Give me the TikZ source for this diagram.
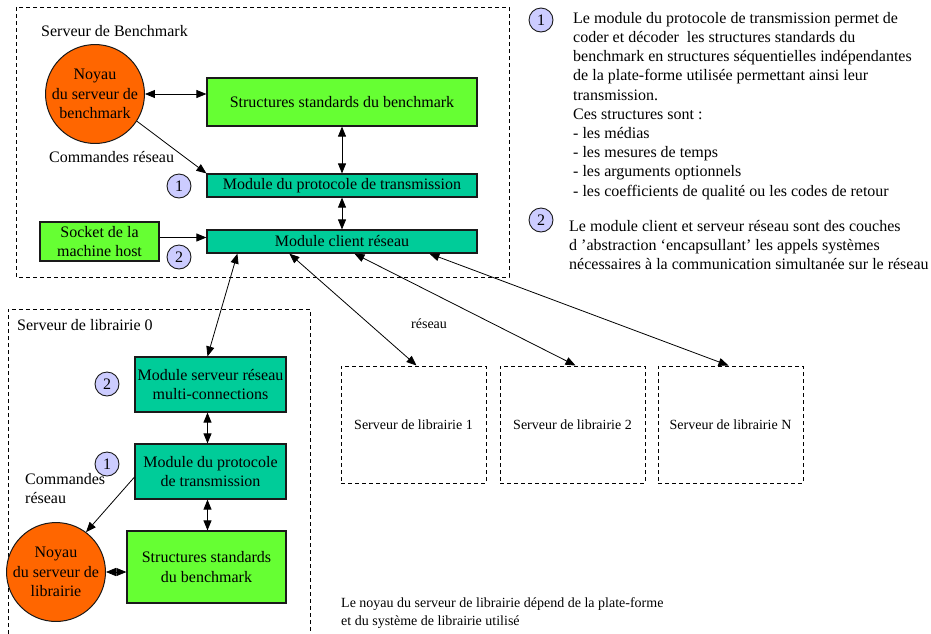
\documentclass[tikz,border=0pt]{standalone}
\usepackage{fontspec}
\setmainfont{Liberation Serif}
\usetikzlibrary{arrows.meta,calc}
\definecolor{noyau}{HTML}{FF6600}
\definecolor{vert}{HTML}{66FF33}
\definecolor{turq}{HTML}{00CC99}
\definecolor{lavande}{HTML}{CCCCFF}
\definecolor{trait}{HTML}{1A1A1A}
\begin{document}
\begin{tikzpicture}[x=1pt,y=-1pt,
  every node/.style={font=\fontsize{16}{19.2}\selectfont, inner sep=0pt},
  small/.style={font=\fontsize{14}{18}\selectfont},
  box/.style={draw=trait, line width=1.2pt, align=center},
  greenbox/.style={box, fill=vert},
  tealbox/.style={box, fill=turq},
  kernel/.style={circle, draw=trait, line width=1pt, fill=noyau, align=center},
  num/.style={circle, draw=trait, line width=0.9pt, fill=lavande, minimum size=24pt},
  group/.style={draw=black, line width=1pt, dash pattern=on 4pt off 3pt},
  libbox/.style={group, small, minimum width=145pt, minimum height=117pt},
  tip/.style={-{Triangle[length=10pt,width=8pt]}, line width=0.8pt},
  dtip/.style={{Triangle[length=10pt,width=8pt]}-{Triangle[length=10pt,width=8pt]}, line width=0.8pt},
  lbl/.style={anchor=west}
]
\useasboundingbox (0,0) rectangle (931,633);

% --- Serveur de Benchmark ---
\draw[group] (16,7) rectangle (509,277);
\node[lbl] (tbench) at (41,31) {Serveur de Benchmark};
\node[kernel, minimum size=96pt] (noy1) at (95,94) {Noyau\\du serveur de\\benchmark};
\node[greenbox, minimum width=270pt, minimum height=48pt] (st1) at (342,102) {Structures standards du benchmark};
\node[tealbox, minimum width=270pt, minimum height=23pt] (mp1) at (342,185.5) {Module du protocole de transmission};
\node[tealbox, minimum width=270pt, minimum height=23pt] (mc) at (342,241.5) {Module client réseau};
\node[greenbox, minimum width=119pt, minimum height=39pt] (sock) at (99.5,241.5) {Socket de la\\machine host};
\node[num] (c1a) at (179,186) {1};
\node[num] (c2a) at (179,257) {2};
\node[lbl] (cmd1) at (49,157) {Commandes réseau};

\draw[dtip] (noy1.east) -- (noy1.east -| st1.west);
\draw[tip] (noy1.-33) -- (mp1.north west);
\draw[dtip] (st1.south) -- (mp1.north);
\draw[dtip] (mp1.south) -- (mc.north);
\draw[tip] ([yshift=4pt]sock.east) -- ([yshift=4pt]sock.east -| mc.west);

% --- Serveur de librairie 0 ---
\draw[group] (8,634) -- (8,309) -- (310,309) -- (310,634);
\node[lbl] (tlib0) at (17,325) {Serveur de librairie 0};
\node[tealbox, minimum width=151pt, minimum height=55pt] (mserv) at (210.5,384.5) {Module serveur réseau\\multi-connections};
\node[tealbox, minimum width=151pt, minimum height=55pt] (mp2) at (210.5,471.5) {Module du protocole\\de transmission};
\node[greenbox, minimum width=159pt, minimum height=72pt] (st2) at (206.5,567) {Structures standards\\du benchmark};
\node[kernel, minimum size=97pt] (noy2) at (56,572) {Noyau\\du serveur de\\librairie};
\node[num] (c2b) at (107,384) {2};
\node[num] (c1b) at (107,464) {1};
\node[anchor=north west, align=left] (cmd2) at (25,473) {Commandes\\réseau};

\draw[dtip] ([xshift=-3pt]mserv.south) -- ([xshift=-3pt]mp2.north);
\draw[dtip] ([xshift=-3pt]mp2.south) -- ([xshift=-3pt]mp2.south |- st2.north);
\draw[tip] ($(mp2.north west)!0.6!(mp2.south west)$) -- (noy2.53);
\draw[dtip] (noy2.east) -- (noy2.east -| st2.west);

% --- Autres serveurs de librairie ---
\node[libbox] (lib1) at (413.5,424.5) {Serveur de librairie 1};
\node[libbox] (lib2) at (572.5,424.5) {Serveur de librairie 2};
\node[libbox] (lib3) at (730.5,424.5) {Serveur de librairie N};
\node[lbl, small] (net) at (411,324) {réseau};

\coordinate (m0) at ($(mc.south west)+(31pt,0)$);
\coordinate (m1) at ($(mc.south west)+(83pt,0)$);
\coordinate (m2) at ($(mc.south west)+(148pt,0)$);
\coordinate (m3) at ($(mc.south west)+(223pt,0)$);
\draw[dtip] (m0) -- ([xshift=-3pt]mserv.north);
\draw[dtip] (m1) -- ([xshift=3pt]lib1.north);
\draw[dtip] (m2) -- ([xshift=3pt]lib2.north);
\draw[dtip] (m3) -- ([xshift=-2pt]lib3.north);

% --- Notes ---
\node[num] (n1) at (541,20) {1};
\node[anchor=north west, align=left] (note1) at (573,12) {Le module du protocole de transmission permet de\\
coder et décoder\ \ les structures standards du\\
benchmark en structures séquentielles indépendantes\\
de la plate-forme utilisée permettant ainsi leur\\
transmission.\\
Ces structures sont :\\
- les médias\\
- les mesures de temps\\
- les arguments optionnels\\
- les coefficients de qualité ou les codes de retour};
\node[num] (n2) at (541,220) {2};
\node[anchor=north west, align=left] (note2) at (569,220) {Le module client et serveur réseau sont des couches\\
d 'abstraction `encapsullant' les appels systèmes\\
nécessaires à la communication simultanée sur le réseau};
\node[anchor=north west, align=left, small] (note3) at (341,597) {Le noyau du serveur de librairie dépend de la plate-forme\\
et du système de librairie utilisé};
\end{tikzpicture}
\end{document}
